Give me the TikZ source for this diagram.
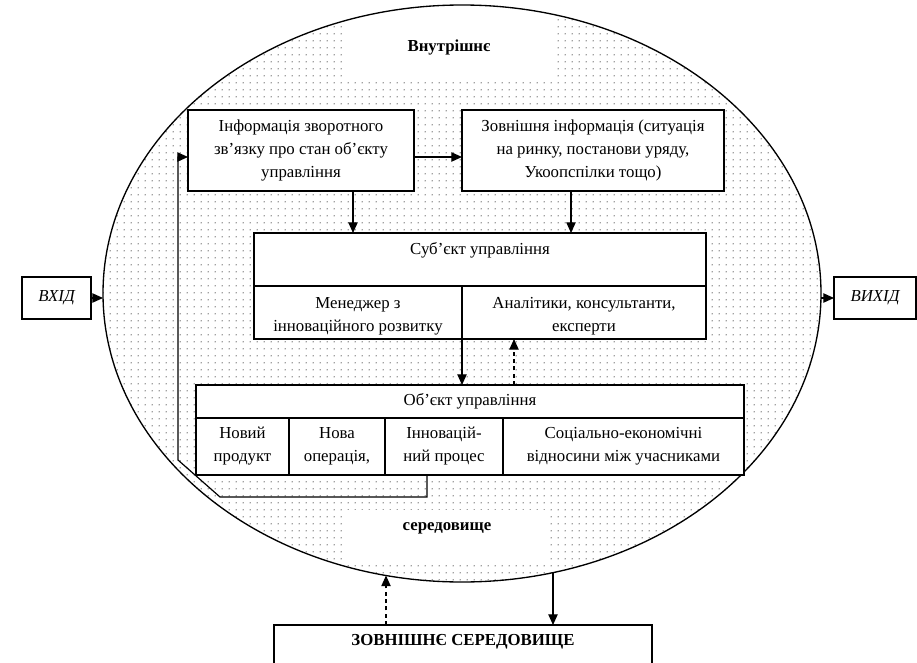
\documentclass[tikz,border=0pt]{standalone}
\usepackage{fontspec}
\setmainfont{Liberation Serif}
\usetikzlibrary{shapes.geometric,arrows.meta,patterns}
\pgfdeclarepatternformonly{mydots}{\pgfpointorigin}{\pgfpoint{5pt}{5pt}}{\pgfpoint{5pt}{5pt}}%
  {\pgfpathcircle{\pgfpoint{2.5pt}{2.5pt}}{0.5pt}\pgfusepath{fill}}
\begin{document}
\begin{tikzpicture}[x=0.75pt,y=-0.75pt,
  every node/.style={font=\fontsize{12.6pt}{17.25pt}\selectfont},
  box/.style={draw,fill=white,line width=1pt,inner sep=0pt,outer sep=0pt},
  txt/.style={align=center,inner sep=0pt},
  arr/.style={line width=0.9pt,-{Triangle[length=8pt,width=7pt]}},
  darr/.style={arr,dash pattern=on 3pt off 2.5pt},
  bold/.style={txt,font=\fontsize{12.6pt}{14pt}\selectfont\bfseries}]
\useasboundingbox (0,0) rectangle (917,663);
% environment ellipse
\fill[pattern=mydots,pattern color=black!75]
  (462,293.5) ellipse [x radius=359, y radius=288.5];
\begin{scope}
  \clip (462,293.5) ellipse [x radius=359, y radius=288.5];
  \fill[white] (347,0) rectangle (555,80);
  \fill[white] (347,510) rectangle (545,562);
\end{scope}
\node (env) [draw,ellipse,line width=1pt,inner sep=0pt,outer sep=0pt,
  minimum width=538.5pt,minimum height=432.75pt] at (462,293.5) {};
\node (inner) [bold] at (449,47) {Внутрішнє};
\node (sered) [bold] at (447,528) {середовище};

% top boxes
\node (b1) [box,minimum width=169.5pt,minimum height=60.75pt,align=center] at (301,150.5)
  {Інформація зворотного\\зв’язку про стан об’єкту\\управління};
\node (b2) [box,minimum width=196.5pt,minimum height=60.75pt,align=center] at (593,150.5)
  {Зовнішня інформація (ситуація\\на ринку, постанови уряду,\\Укоопспілки тощо)};

% subject of management
\node (b3t) [box,minimum width=339pt,minimum height=39.75pt] at (480,259.5) {};
\node (b3tt) [txt] at (480,250) {Суб’єкт управління};
\node (b3l) [box,minimum width=156pt,minimum height=39.75pt] at (358,312.5) {};
\node (b3lt) [txt] at (358,316) {Менеджер з\\інноваційного розвитку};
\node (b3r) [box,minimum width=183pt,minimum height=39.75pt] at (584,312.5) {};
\node (b3rt) [txt] at (584,316) {Аналітики, консультанти,\\експерти};

% object of management
\node (b4t) [box,minimum width=411pt,minimum height=24.75pt] at (470,401.5) {Об’єкт управління};
\node (c1) [box,minimum width=69.75pt,minimum height=42.75pt,align=center] at (242.5,446.5) {Новий\\продукт};
\node (c2) [box,minimum width=72pt,minimum height=42.75pt,align=center] at (337,446.5) {Нова\\операція,};
\node (c3) [box,minimum width=88.5pt,minimum height=42.75pt,align=center] at (444,446.5) {Інновацій-\\ний процес};
\node (c4) [box,minimum width=180.75pt,minimum height=42.75pt,align=center] at (623.5,446.5) {Соціально-економічні\\відносини між учасниками};

% input / output
\node (vhid) [box,minimum width=51.75pt,minimum height=31.5pt] at (56.5,298) {\itshape ВХІД};
\node (vyhid) [box,minimum width=61.5pt,minimum height=31.5pt] at (875,298) {\itshape ВИХІД};

% external environment
\node (b5) [box,minimum width=283.5pt,minimum height=56.25pt,anchor=north] at (463,625) {};
\node (b5t) [bold] at (463,642) {ЗОВНІШНЄ СЕРЕДОВИЩЕ};

% helper coordinates
\coordinate (fa) at (178,157);
\coordinate (xa) at (353,0);
\coordinate (xb) at (571,0);
\coordinate (xc) at (514,0);
\coordinate (xf) at (427,0);
\coordinate (fb) at (427,497);
\coordinate (fc) at (220,497);
\coordinate (fd) at (178,460);
\coordinate (ea) at (386,575.5);
\coordinate (eb) at (553,572.6);

% connectors
\draw[arr] (b1.east |- fa) -- (b2.west |- fa);
\draw[arr] (b1.south -| xa) -- (b3t.north -| xa);
\draw[arr] (b2.south -| xb) -- (b3t.north -| xb);
\draw[arr] (b3r.south west) -- (b4t.north -| b3r.south west);
\draw[darr] (b4t.north -| xc) -- (b3r.south -| xc);
\draw[arr] (c3.south -| xf) -- (fb) -- (fc) -- (fd) -- (fa) -- (b1.west |- fa);
\draw[arr] (vhid.east) -- (vhid.east -| env.west);
\draw[arr] (vyhid.west -| env.east) -- (vyhid.west);
\draw[darr] (b5.north -| ea) -- (ea);
\draw[arr] (eb) -- (b5.north -| eb);
\end{tikzpicture}
\end{document}
